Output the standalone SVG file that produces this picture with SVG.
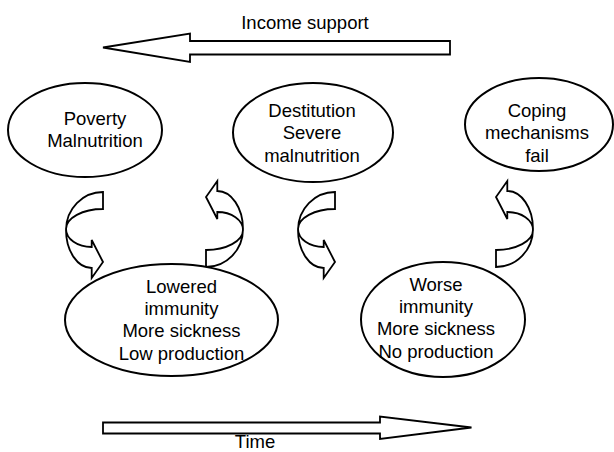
<svg xmlns="http://www.w3.org/2000/svg" xmlns:xlink="http://www.w3.org/1999/xlink" width="614" height="452" viewBox="0 0 614 452">
<style>
.shape{fill:#fff;stroke:#000;stroke-width:2;stroke-linejoin:miter}
.arrow{fill:#fff;stroke:#000;stroke-width:1.8;stroke-linejoin:miter}
.lbl{font-family:"Liberation Sans",Arial,Helvetica,sans-serif;font-size:18.5px;fill:#000;text-anchor:middle}
</style>
<defs>
<path id="curl" d="M103,192 C82.6,192 66,209 66,230 C66,251 77.5,268 91.7,268 L91.7,278 L103,262 L91.7,240 L91.7,247 C77.5,247 66,239 66,229 C66,218 82.6,209 103,209 Z"/>
</defs>
<rect width="614" height="452" fill="#fff"/>
<g id="connectors">
<g id="income-support">
<polygon class="arrow" points="103,47.5 190,33.5 190,41 450,41 450,54.5 190,54.5 190,62"/>
<text class="lbl" x="305" y="29">Income support</text>
</g>
<g id="time">
<polygon class="arrow" points="103,422.5 380,422.5 380,416.5 471.5,427.5 380,439 380,433.5 103,433.5"/>
<text class="lbl" x="255" y="448">Time</text>
</g>
<use class="arrow" href="#curl"/>
<use class="arrow" href="#curl" transform="translate(309,459) rotate(180)"/>
<use class="arrow" href="#curl" transform="translate(232,0)"/>
<use class="arrow" href="#curl" transform="translate(599,459) rotate(180)"/>
</g>
<g id="poverty">
<ellipse class="shape" cx="85" cy="130" rx="77" ry="47"/>
<text class="lbl" x="95" y="125">Poverty</text>
<text class="lbl" x="95" y="147">Malnutrition</text>
</g>
<g id="destitution">
<ellipse class="shape" cx="313" cy="132.5" rx="80" ry="49.5"/>
<text class="lbl" x="312" y="117">Destitution</text>
<text class="lbl" x="312" y="139">Severe</text>
<text class="lbl" x="312" y="162">malnutrition</text>
</g>
<g id="coping">
<ellipse class="shape" cx="539" cy="124.5" rx="74" ry="46.5"/>
<text class="lbl" x="537" y="117">Coping</text>
<text class="lbl" x="537" y="139">mechanisms</text>
<text class="lbl" x="537" y="162">fail</text>
</g>
<g id="lowered">
<ellipse class="shape" cx="171.5" cy="320" rx="106.5" ry="56"/>
<text class="lbl" x="181.5" y="293">Lowered</text>
<text class="lbl" x="181.5" y="315">immunity</text>
<text class="lbl" x="181.5" y="337">More sickness</text>
<text class="lbl" x="181.5" y="360">Low production</text>
</g>
<g id="worse">
<ellipse class="shape" cx="443" cy="319.5" rx="82" ry="57.5"/>
<text class="lbl" x="436" y="291">Worse</text>
<text class="lbl" x="436" y="313">immunity</text>
<text class="lbl" x="436" y="335">More sickness</text>
<text class="lbl" x="436" y="358">No production</text>
</g>
</svg>
